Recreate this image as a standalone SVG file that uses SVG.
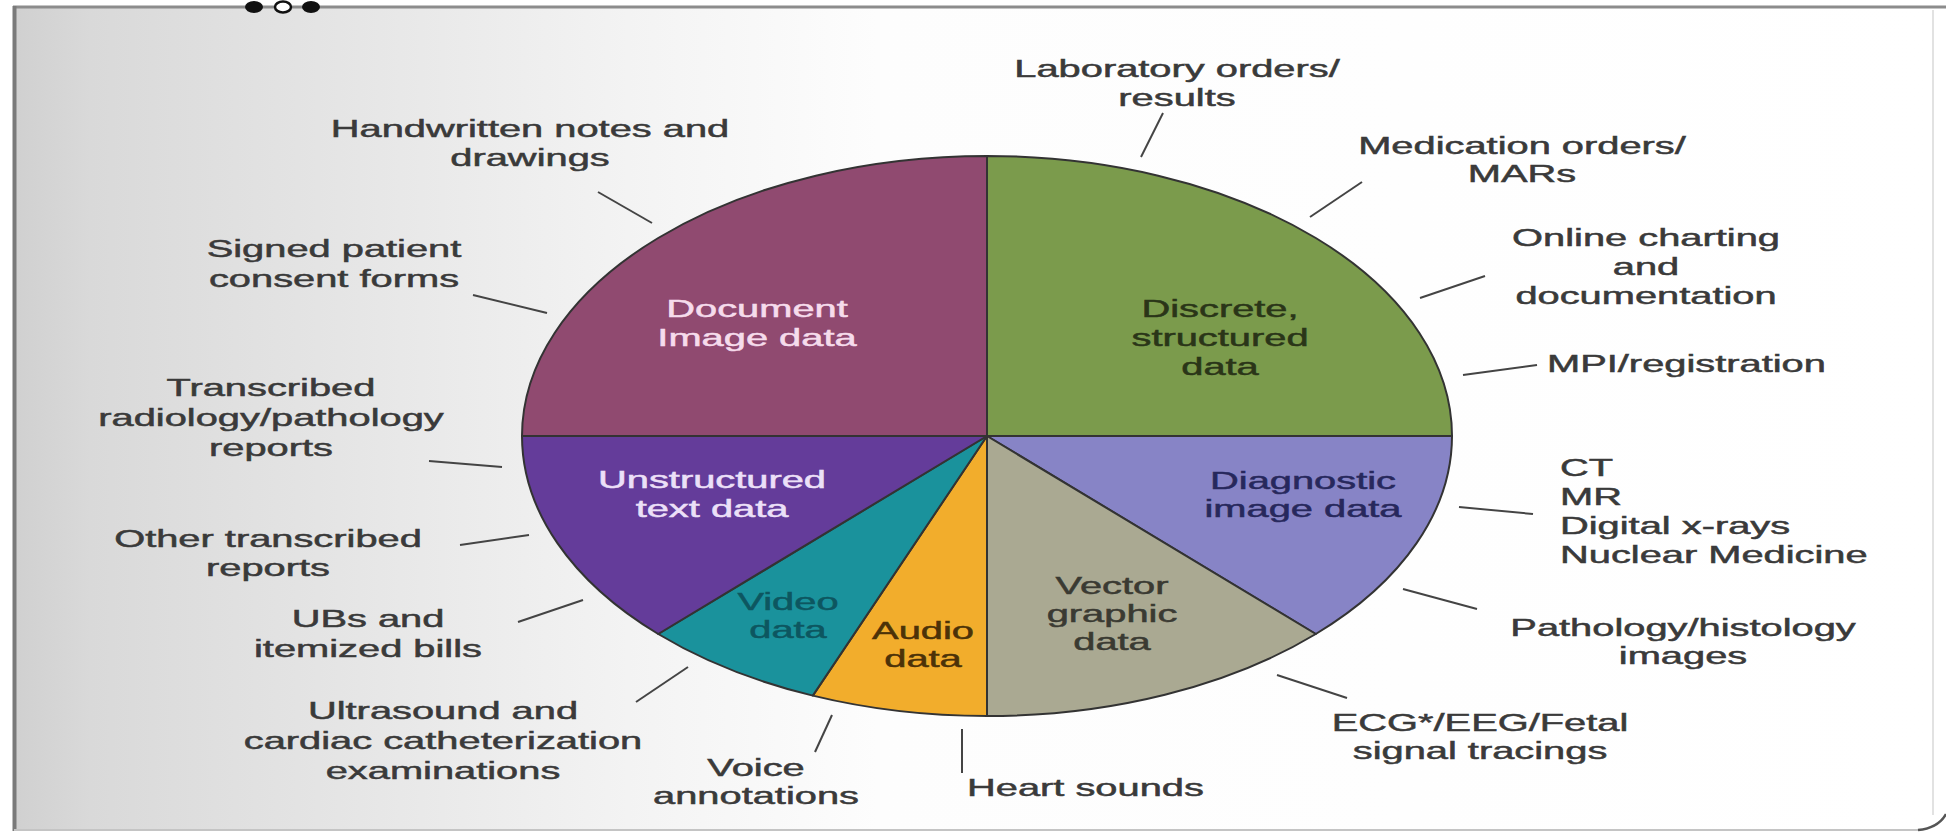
<svg xmlns="http://www.w3.org/2000/svg" width="1946" height="833" viewBox="0 0 1946 833">
<defs>
<linearGradient id="bg" x1="0" y1="0" x2="1" y2="0">
<stop offset="0" stop-color="#d0d0d0"/>
<stop offset="0.04" stop-color="#d9d9d9"/>
<stop offset="0.18" stop-color="#e6e6e6"/>
<stop offset="0.32" stop-color="#f3f3f3"/>
<stop offset="0.45" stop-color="#fdfdfd"/>
<stop offset="1" stop-color="#ffffff"/>
</linearGradient>
<style>
.lbl{font-family:"Liberation Sans",Arial,Helvetica,sans-serif;font-size:24px;fill:#3a3a3a;stroke:#3a3a3a;stroke-width:0.5}
.mid{text-anchor:middle}
.seg{stroke:#333;stroke-width:2;stroke-linejoin:round}
.lead{stroke:#444;stroke-width:2;fill:none}
</style>
</defs>
<rect width="1946" height="833" fill="#ffffff"/>
<g id="frame">
<rect x="14" y="7" width="1919" height="823" fill="url(#bg)"/>
<line x1="13" y1="7" x2="1946" y2="7" stroke="#8c8c8c" stroke-width="3"/>
<line x1="14.5" y1="6" x2="14.5" y2="831" stroke="#7a7a7a" stroke-width="4"/>
<line x1="14" y1="830" x2="1920" y2="830" stroke="#c4c4c4" stroke-width="2"/>
<line x1="1933" y1="10" x2="1933" y2="815" stroke="#e2e2e2" stroke-width="2"/>
<path d="M1918,830 Q1938,828 1946,814" fill="none" stroke="#555" stroke-width="2.5"/>
<ellipse cx="254" cy="7" rx="9" ry="6" fill="#111"/>
<ellipse cx="283" cy="7" rx="8" ry="5.5" fill="#fff" stroke="#111" stroke-width="2.5"/>
<ellipse cx="311" cy="7" rx="9" ry="6" fill="#111"/>
</g>

<g id="seg-discrete">
<path class="seg" fill="#7b9b4c" d="M987,436 L987,156 A465,280 0 0,1 1452,436 Z"/>
<text class="lbl mid" style="fill:#2a3518;stroke:#2a3518" transform="translate(1220,317) scale(1.66,1)"><tspan x="0">Discrete,</tspan><tspan x="0" dy="29">structured</tspan><tspan x="0" dy="29">data</tspan></text>
</g>
<g id="seg-diagnostic">
<path class="seg" fill="#8784c6" d="M987,436 L1452,436 A465,280 0 0,1 1315.8,634 Z"/>
<text class="lbl mid" style="fill:#27285c;stroke:#27285c" transform="translate(1303,489) scale(1.66,1)"><tspan x="0">Diagnostic</tspan><tspan x="0" dy="28">image data</tspan></text>
</g>
<g id="seg-vector">
<path class="seg" fill="#aaa992" d="M987,436 L1315.8,634 A465,280 0 0,1 987,716 Z"/>
<text class="lbl mid" style="fill:#3a3a32;stroke:#3a3a32" transform="translate(1112,594) scale(1.66,1)"><tspan x="0">Vector</tspan><tspan x="0" dy="28">graphic</tspan><tspan x="0" dy="28">data</tspan></text>
</g>
<g id="seg-audio">
<path class="seg" fill="#f2ad2c" d="M987,436 L987,716 A465,280 0 0,1 812.8,695.6 Z"/>
<text class="lbl mid" style="fill:#4c3208;stroke:#4c3208" transform="translate(923,639) scale(1.66,1)"><tspan x="0">Audio</tspan><tspan x="0" dy="28">data</tspan></text>
</g>
<g id="seg-video">
<path class="seg" fill="#1a929c" d="M987,436 L812.8,695.6 A465,280 0 0,1 658.2,634 Z"/>
<text class="lbl mid" style="fill:#0d5660;stroke:#0d5660" transform="translate(788,610) scale(1.66,1)"><tspan x="0">Video</tspan><tspan x="0" dy="28">data</tspan></text>
</g>
<g id="seg-unstructured">
<path class="seg" fill="#643c9a" d="M987,436 L658.2,634 A465,280 0 0,1 522,436 Z"/>
<text class="lbl mid" style="fill:#ece0f8;stroke:#ece0f8" transform="translate(712,488) scale(1.66,1)"><tspan x="0">Unstructured</tspan><tspan x="0" dy="29">text data</tspan></text>
</g>
<g id="seg-document">
<path class="seg" fill="#904a70" d="M987,436 L522,436 A465,280 0 0,1 987,156 Z"/>
<text class="lbl mid" style="fill:#f6dcec;stroke:#f6dcec" transform="translate(757,317) scale(1.66,1)"><tspan x="0">Document</tspan><tspan x="0" dy="29">Image data</tspan></text>
</g>

<g id="connectors">
<line class="lead" x1="598" y1="192" x2="652" y2="223"/>
<line class="lead" x1="473" y1="295" x2="547" y2="313"/>
<line class="lead" x1="429" y1="461" x2="502" y2="467"/>
<line class="lead" x1="460" y1="545" x2="529" y2="535"/>
<line class="lead" x1="518" y1="622" x2="583" y2="600"/>
<line class="lead" x1="636" y1="702" x2="688" y2="667"/>
<line class="lead" x1="832" y1="715" x2="815" y2="752"/>
<line class="lead" x1="962" y1="729" x2="962" y2="773"/>
<line class="lead" x1="1277" y1="675" x2="1347" y2="698"/>
<line class="lead" x1="1403" y1="589" x2="1477" y2="609"/>
<line class="lead" x1="1459" y1="507" x2="1533" y2="514"/>
<line class="lead" x1="1463" y1="375" x2="1537" y2="365"/>
<line class="lead" x1="1420" y1="298" x2="1485" y2="276"/>
<line class="lead" x1="1310" y1="217" x2="1362" y2="182"/>
<line class="lead" x1="1163" y1="113" x2="1141" y2="157"/>
</g>

<g id="lbl-handwritten"><text class="lbl mid" transform="translate(530,137) scale(1.66,1)"><tspan x="0">Handwritten notes and</tspan><tspan x="0" dy="29">drawings</tspan></text></g>
<g id="lbl-signed"><text class="lbl mid" transform="translate(334,257) scale(1.66,1)"><tspan x="0">Signed patient</tspan><tspan x="0" dy="30">consent forms</tspan></text></g>
<g id="lbl-transcribed"><text class="lbl mid" transform="translate(271,396) scale(1.66,1)"><tspan x="0">Transcribed</tspan><tspan x="0" dy="30">radiology/pathology</tspan><tspan x="0" dy="30">reports</tspan></text></g>
<g id="lbl-other"><text class="lbl mid" transform="translate(268,547) scale(1.66,1)"><tspan x="0">Other transcribed</tspan><tspan x="0" dy="29">reports</tspan></text></g>
<g id="lbl-ubs"><text class="lbl mid" transform="translate(368,627) scale(1.66,1)"><tspan x="0">UBs and</tspan><tspan x="0" dy="30">itemized bills</tspan></text></g>
<g id="lbl-ultrasound"><text class="lbl mid" transform="translate(443,719) scale(1.66,1)"><tspan x="0">Ultrasound and</tspan><tspan x="0" dy="30">cardiac catheterization</tspan><tspan x="0" dy="30">examinations</tspan></text></g>
<g id="lbl-voice"><text class="lbl mid" transform="translate(756,776) scale(1.66,1)"><tspan x="0">Voice</tspan><tspan x="0" dy="28">annotations</tspan></text></g>
<g id="lbl-heart"><text class="lbl" transform="translate(967,796) scale(1.66,1)">Heart sounds</text></g>
<g id="lbl-ecg"><text class="lbl mid" transform="translate(1480,731) scale(1.66,1)"><tspan x="0">ECG*/EEG/Fetal</tspan><tspan x="0" dy="28">signal tracings</tspan></text></g>
<g id="lbl-pathology"><text class="lbl mid" transform="translate(1683,636) scale(1.66,1)"><tspan x="0">Pathology/histology</tspan><tspan x="0" dy="28">images</tspan></text></g>
<g id="lbl-ct"><text class="lbl" transform="translate(1560,476) scale(1.66,1)"><tspan x="0">CT</tspan><tspan x="0" dy="29">MR</tspan><tspan x="0" dy="29">Digital x-rays</tspan><tspan x="0" dy="29">Nuclear Medicine</tspan></text></g>
<g id="lbl-mpi"><text class="lbl" transform="translate(1547,372) scale(1.66,1)">MPI/registration</text></g>
<g id="lbl-online"><text class="lbl mid" transform="translate(1646,246) scale(1.66,1)"><tspan x="0">Online charting</tspan><tspan x="0" dy="29">and</tspan><tspan x="0" dy="29">documentation</tspan></text></g>
<g id="lbl-medication"><text class="lbl mid" transform="translate(1522,154) scale(1.66,1)"><tspan x="0">Medication orders/</tspan><tspan x="0" dy="28">MARs</tspan></text></g>
<g id="lbl-laboratory"><text class="lbl mid" transform="translate(1177,77) scale(1.66,1)"><tspan x="0">Laboratory orders/</tspan><tspan x="0" dy="29">results</tspan></text></g>
</svg>
